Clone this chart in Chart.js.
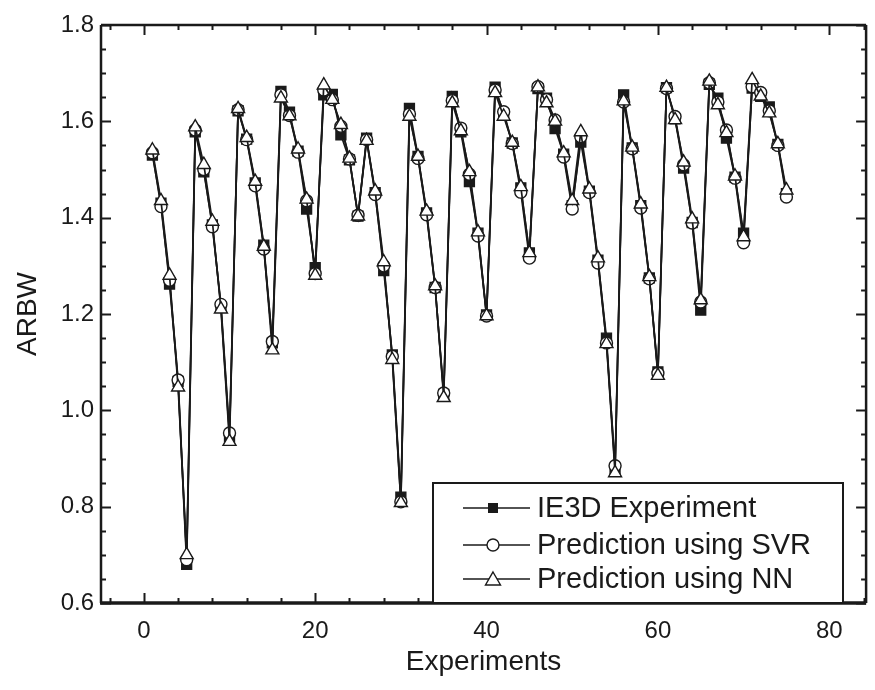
<!DOCTYPE html>
<html>
<head>
<meta charset="utf-8">
<script src="https://cdn.jsdelivr.net/npm/chart.js@4.4.1/dist/chart.umd.min.js"></script>
<style>
  html, body { margin: 0; padding: 0; background: #fff; overflow: hidden; }
  #wrap { width: 875px; height: 690px; }
</style>
</head>
<body>
<div id="wrap"><canvas id="c" width="875" height="690"></canvas></div>
<script>
// ---- data ----
const experiments = [1,2,3,4,5,6,7,8,9,10,11,12,13,14,15,16,17,18,19,20,21,22,23,24,25,26,27,28,29,30,31,32,33,34,35,36,37,38,39,40,41,42,43,44,45,46,47,48,49,50,51,52,53,54,55,56,57,58,59,60,61,62,63,64,65,66,67,68,69,70,71,72,73,74,75];
const ie3d = [1.530,1.430,1.262,1.060,0.680,1.578,1.495,1.385,1.215,0.945,1.622,1.563,1.472,1.343,1.140,1.662,1.619,1.538,1.418,1.296,1.655,1.656,1.572,1.520,1.403,1.565,1.452,1.290,1.115,0.820,1.627,1.527,1.410,1.255,1.033,1.652,1.578,1.475,1.368,1.198,1.671,1.615,1.555,1.462,1.327,1.668,1.648,1.585,1.532,1.425,1.557,1.455,1.312,1.150,0.875,1.655,1.545,1.425,1.275,1.080,1.670,1.605,1.503,1.390,1.208,1.677,1.648,1.565,1.484,1.368,1.669,1.652,1.630,1.552,1.450];
const svr  = [1.535,1.423,1.270,1.063,0.690,1.582,1.500,1.381,1.220,0.953,1.624,1.562,1.466,1.335,1.143,1.655,1.612,1.536,1.435,1.284,1.665,1.645,1.590,1.522,1.405,1.562,1.448,1.300,1.112,0.810,1.615,1.523,1.406,1.255,1.036,1.643,1.586,1.490,1.362,1.196,1.665,1.620,1.554,1.453,1.316,1.672,1.645,1.603,1.526,1.418,1.568,1.452,1.306,1.140,0.885,1.640,1.543,1.420,1.273,1.077,1.668,1.610,1.510,1.389,1.225,1.680,1.640,1.582,1.482,1.348,1.672,1.660,1.622,1.550,1.443];
const nn   = [1.540,1.435,1.280,1.048,0.700,1.588,1.510,1.392,1.210,0.935,1.626,1.566,1.475,1.340,1.125,1.648,1.611,1.542,1.438,1.280,1.675,1.645,1.593,1.523,1.403,1.560,1.455,1.308,1.105,0.808,1.610,1.527,1.413,1.258,1.026,1.638,1.580,1.495,1.370,1.196,1.659,1.610,1.556,1.464,1.327,1.671,1.638,1.600,1.534,1.435,1.578,1.459,1.316,1.138,0.870,1.642,1.546,1.428,1.277,1.072,1.670,1.603,1.515,1.397,1.229,1.683,1.634,1.576,1.486,1.360,1.686,1.652,1.617,1.553,1.457];
const seriesNames = ['IE3D Experiment', 'Prediction using SVR', 'Prediction using NN'];
const xMajorTicks = [0, 20, 40, 60, 80];
const yMajorTicks = [0.6, 0.8, 1.0, 1.2, 1.4, 1.6, 1.8];

const FONT = "'Liberation Sans', Arial, sans-serif";
const INK = '#1a1a1a';

function pts(arr) { return experiments.map((x, i) => ({ x: x, y: arr[i] })); }

const frameAndLegend = {
  id: 'frameAndLegend',
  afterDatasetsDraw(chart) {
    const ctx = chart.ctx;
    const a = chart.chartArea;
    const xs = chart.scales.x, ys = chart.scales.y;
    ctx.save();
    ctx.strokeStyle = INK;
    // ticks (inward, all four sides)
    ctx.lineWidth = 2;
    ctx.beginPath();
    for (let v = -4; v <= xs.max; v += 4) {
      const px = Math.round(xs.getPixelForValue(v)) + 0.5;
      const len = (v % 20 === 0) ? 10 : 5;
      ctx.moveTo(px, a.bottom); ctx.lineTo(px, a.bottom - len);
      ctx.moveTo(px, a.top); ctx.lineTo(px, a.top + len);
    }
    for (let k = 12; k <= 36; k++) {
      const v = k * 0.05;
      const py = Math.round(ys.getPixelForValue(v)) + 0.5;
      const len = (k % 4 === 0) ? 10 : 5;
      ctx.moveTo(a.left, py); ctx.lineTo(a.left + len, py);
      ctx.moveTo(a.right, py); ctx.lineTo(a.right - len, py);
    }
    ctx.stroke();
    // frame
    ctx.lineWidth = 2.5;
    ctx.beginPath();
    ctx.moveTo(a.left, a.top); ctx.lineTo(a.right, a.top);
    ctx.moveTo(a.left, a.top); ctx.lineTo(a.left, a.bottom);
    ctx.moveTo(a.right, a.top); ctx.lineTo(a.right, a.bottom);
    ctx.stroke();
    ctx.lineWidth = 3.5;
    ctx.beginPath();
    ctx.moveTo(a.left - 1, a.bottom); ctx.lineTo(a.right, a.bottom);
    ctx.stroke();

    // legend
    const lx = a.left + 332, lw = 410, lh = 120;
    const ly = a.bottom - lh;
    ctx.fillStyle = '#fff';
    ctx.fillRect(lx, ly, lw, lh);
    ctx.lineWidth = 2;
    ctx.strokeRect(lx, ly, lw, lh);
    const rowsY = [ly + 25, ly + 62, ly + 96];
    const styles = ['rect', 'circle', 'triangle'];
    ctx.font = '29px ' + FONT;
    ctx.textBaseline = 'middle';
    ctx.textAlign = 'left';
    for (let i = 0; i < 3; i++) {
      const y = rowsY[i];
      ctx.strokeStyle = INK;
      ctx.lineWidth = 1.6;
      ctx.beginPath();
      ctx.moveTo(lx + 30, y); ctx.lineTo(lx + 97, y);
      ctx.stroke();
      const mx = lx + 60;
      ctx.lineWidth = 1.4;
      if (styles[i] === 'rect') {
        ctx.fillStyle = INK;
        ctx.fillRect(mx - 5, y - 5, 10, 10);
      } else if (styles[i] === 'circle') {
        ctx.fillStyle = '#fff';
        ctx.beginPath(); ctx.arc(mx, y, 6, 0, Math.PI * 2); ctx.fill(); ctx.stroke();
      } else {
        ctx.fillStyle = '#fff';
        ctx.beginPath();
        ctx.moveTo(mx, y - 7); ctx.lineTo(mx + 7.5, y + 6); ctx.lineTo(mx - 7.5, y + 6); ctx.closePath();
        ctx.fill(); ctx.stroke();
      }
      ctx.fillStyle = INK;
      ctx.fillText(seriesNames[i], lx + 104, y + 1);
    }
    ctx.restore();
  }
};

const common = { borderColor: INK, borderWidth: 1.7, pointBorderColor: INK, pointBorderWidth: 1.4, tension: 0, fill: false };

new Chart(document.getElementById('c'), {
  type: 'line',
  data: {
    datasets: [
      Object.assign({ label: seriesNames[0], data: pts(ie3d), pointStyle: 'rect', pointRadius: 7, pointBackgroundColor: INK, order: 3 }, common),
      Object.assign({ label: seriesNames[1], data: pts(svr), pointStyle: 'circle', pointRadius: 6, pointBackgroundColor: '#fff', order: 2 }, common),
      Object.assign({ label: seriesNames[2], data: pts(nn), pointStyle: 'triangle', pointRadius: 7.5, pointBackgroundColor: '#fff', order: 1 }, common)
    ]
  },
  options: {
    responsive: false,
    animation: false,
    events: [],
    layout: { padding: { top: 25, right: 1, left: 0, bottom: 0 } },
    plugins: { legend: { display: false }, tooltip: { enabled: false } },
    scales: {
      x: {
        type: 'linear', min: -5, max: 84.3,
        afterFit(s) { s.height = 87; },
        afterBuildTicks(s) { s.ticks = xMajorTicks.map(v => ({ value: v })); },
        grid: { display: false, drawTicks: false },
        border: { display: false },
        ticks: { color: INK, font: { family: FONT, size: 24 }, padding: 14, maxRotation: 0, autoSkip: false },
        title: { display: true, text: 'Experiments', color: INK, font: { family: FONT, size: 28 }, padding: { bottom: 11, top: 0 } }
      },
      y: {
        type: 'linear', min: 0.6, max: 1.8,
        afterFit(s) { s.width = 101; },
        afterBuildTicks(s) { s.ticks = yMajorTicks.map(v => ({ value: v })); },
        grid: { display: false, drawTicks: false },
        border: { display: false },
        ticks: { color: INK, font: { family: FONT, size: 24 }, padding: 7, callback: v => Number(v).toFixed(1) },
        title: { display: true, text: 'ARBW', color: INK, font: { family: FONT, size: 28 }, padding: { top: 11, bottom: 0 } }
      }
    }
  },
  plugins: [frameAndLegend]
});
</script>
</body>
</html>
